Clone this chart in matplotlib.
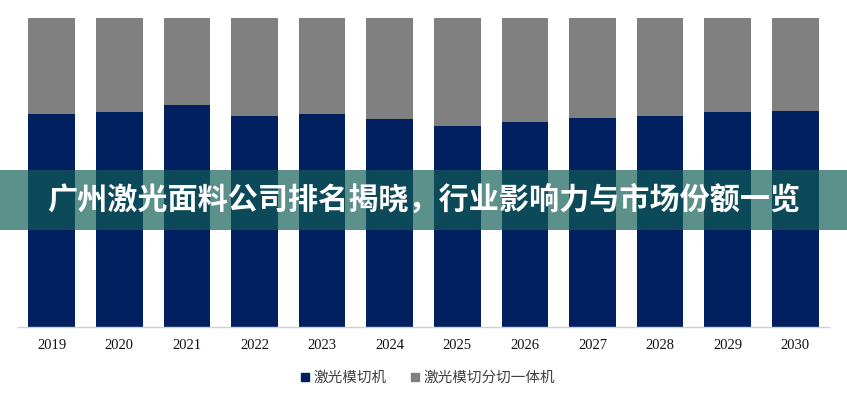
import matplotlib
matplotlib.use("Agg")
import matplotlib.pyplot as plt
from matplotlib.patches import Rectangle
from matplotlib.lines import Line2D

years = ["2019", "2020", "2021", "2022", "2023", "2024", "2025", "2026", "2027", "2028", "2029", "2030"]
die_cut = [68.9, 69.6, 71.8, 68.1, 68.9, 67.2, 65.0, 66.3, 67.6, 68.3, 69.4, 70.0]
combo = [100 - v for v in die_cut]
series_names = ["激光模切机", "激光模切分切一体机"]
title = "广州激光面料公司排名揭晓，行业影响力与市场份额一览"

navy = "#002060"
gray = "#808080"

fig = plt.figure(figsize=(8.47, 4.0), dpi=100)
ax = fig.add_axes([0.02125, 0.18375, 0.9575, 0.77125])

x = list(range(len(years)))
ax.bar(x, die_cut, width=0.69, color=navy, zorder=2)
ax.bar(x, combo, width=0.69, bottom=die_cut, color=gray, zorder=2)

ax.set_xlim(-0.5, 11.5)
ax.set_ylim(0, 100)
ax.set_xticks(x)
ax.set_xticklabels(years, fontfamily="Liberation Serif", fontsize=10.5, color="#111111")
ax.tick_params(axis="x", length=0, pad=9)
ax.set_yticks([])
for s in ["top", "left", "right"]:
    ax.spines[s].set_visible(False)
ax.spines["bottom"].set_color("#d0d0d0")
ax.spines["bottom"].set_linewidth(1.0)

handles = [Line2D([], [], marker="s", linestyle="none", markersize=6, color=navy),
           Line2D([], [], marker="s", linestyle="none", markersize=6, color=gray)]
fig.legend(handles, series_names, loc="center", bbox_to_anchor=(0.505, 0.055), ncol=2,
           frameon=False, handlelength=0.6, handletextpad=0.3, columnspacing=1.6,
           prop={"family": ["Noto Sans CJK SC", "DejaVu Sans"], "size": 10.5},
           labelcolor="#404040")

# title banner
fig.patches.append(Rectangle((0, 1 - 229.5 / 400), 1, 59.5 / 400, transform=fig.transFigure,
                             facecolor="#135e57", alpha=0.69, edgecolor="none", zorder=5))
fig.text(0.5, 1 - 200 / 400, title, ha="center", va="center", color="white",
         fontsize=21.7, fontweight="bold", family=["Noto Sans CJK SC", "DejaVu Sans"], zorder=6)

fig.savefig("out.png", dpi=100)
